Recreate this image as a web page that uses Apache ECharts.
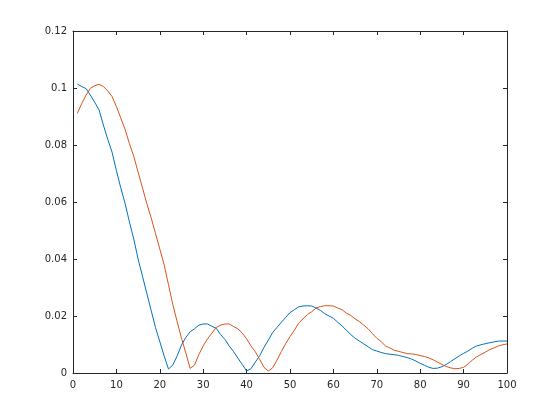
<!DOCTYPE html>
<html>
<head>
<meta charset="utf-8">
<script src="https://cdn.jsdelivr.net/npm/echarts@6/dist/echarts.min.js"></script>
<style>
  html, body { margin: 0; padding: 0; background: #fff; }
  #chart { width: 560px; height: 420px; }
</style>
</head>
<body>
<div id="chart"></div>
<script>
// x positions 1..100
const xValues = [];
for (let i = 1; i <= 100; i++) xValues.push(i);

// blue series
const blueValues = [
  0.1014, 0.1005, 0.0998, 0.0975, 0.0950, 0.0923, 0.0870, 0.0820, 0.0775, 0.0710,
  0.0650, 0.0595, 0.0530, 0.0470, 0.0400, 0.0340, 0.0280, 0.0220, 0.0160, 0.0110,
  0.0060, 0.0014, 0.0028, 0.0060, 0.0098, 0.0125, 0.0145, 0.0155, 0.0168, 0.0172,
  0.0172, 0.0164, 0.0157, 0.0135, 0.0118, 0.0095, 0.0075, 0.0052, 0.0030, 0.0007,
  0.0015, 0.0038, 0.0060, 0.0090, 0.0115, 0.0142, 0.0160, 0.0178, 0.0195, 0.0212,
  0.0222, 0.0232, 0.0235, 0.0236, 0.0235, 0.0228, 0.0220, 0.0208, 0.0200, 0.0192,
  0.0178, 0.0165, 0.0150, 0.0135, 0.0122, 0.0112, 0.0102, 0.0092, 0.0082, 0.0077,
  0.0072, 0.0068, 0.0066, 0.0064, 0.0062, 0.0058, 0.0054, 0.0049, 0.0042, 0.0034,
  0.0027, 0.0020, 0.0016, 0.0017, 0.0022, 0.0030, 0.0040, 0.0050, 0.0060, 0.0069,
  0.0077, 0.0087, 0.0095, 0.0099, 0.0103, 0.0106, 0.0109, 0.0112, 0.0112, 0.0112
];

// orange series
const orangeValues = [
  0.0911, 0.0945, 0.0975, 0.0999, 0.1008, 0.1013, 0.1005, 0.0990, 0.0970, 0.0935,
  0.0895, 0.0855, 0.0805, 0.0760, 0.0705, 0.0650, 0.0595, 0.0545, 0.0490, 0.0435,
  0.0380, 0.0310, 0.0240, 0.0180, 0.0122, 0.0070, 0.0016, 0.0028, 0.0065, 0.0095,
  0.0120, 0.0140, 0.0160, 0.0168, 0.0172, 0.0172, 0.0163, 0.0155, 0.0140, 0.0120,
  0.0095, 0.0075, 0.0048, 0.0020, 0.0007, 0.0018, 0.0045, 0.0075, 0.0103, 0.0128,
  0.0150, 0.0175, 0.0190, 0.0205, 0.0215, 0.0228, 0.0233, 0.0236, 0.0236, 0.0235,
  0.0228, 0.0222, 0.0210, 0.0202, 0.0190, 0.0180, 0.0168, 0.0155, 0.0138, 0.0122,
  0.0110, 0.0095, 0.0088, 0.0080, 0.0076, 0.0072, 0.0068, 0.0067, 0.0065, 0.0061,
  0.0058, 0.0053, 0.0046, 0.0038, 0.0030, 0.0023, 0.0018, 0.0015, 0.0016, 0.0020,
  0.0031, 0.0045, 0.0057, 0.0065, 0.0073, 0.0082, 0.0088, 0.0095, 0.0099, 0.0102
];

const axisColor = "#262626";
const font = "DejaVu Sans";

// 坐标轴公共样式
const baseAxis = {
  type: "value",
  axisLine: { show: true, onZero: false, lineStyle: { color: axisColor, width: 1 } },
  axisTick: { show: true, inside: true, length: 4, lineStyle: { color: axisColor } },
  splitLine: { show: false },
};

const chart = echarts.init(document.getElementById("chart"));
chart.setOption({
  animation: false,
  grid: { left: 73, right: 53, top: 31, bottom: 47 },
  xAxis: [
    {
      ...baseAxis,
      position: "bottom",
      min: 0, max: 100, interval: 10,
      axisLabel: { color: axisColor, fontFamily: font, fontSize: 10, margin: 7 },
    },
    {
      ...baseAxis,
      position: "top",
      min: 0, max: 100, interval: 10,
      axisLabel: { show: false },
    },
  ],
  yAxis: [
    {
      ...baseAxis,
      position: "left",
      min: 0, max: 0.12, interval: 0.02,
      axisLabel: {
        color: axisColor, fontFamily: font, fontSize: 10, margin: 6,
        formatter: (v) => String(parseFloat(v.toFixed(2))),
      },
    },
    {
      ...baseAxis,
      position: "right",
      min: 0, max: 0.12, interval: 0.02,
      axisLabel: { show: false },
    },
  ],
  series: [
    {
      type: "line",
      data: xValues.map((x, i) => [x, blueValues[i]]),
      showSymbol: false,
      lineStyle: { color: "#0072BD", width: 1 },
      itemStyle: { color: "#0072BD" },
    },
    {
      type: "line",
      data: xValues.map((x, i) => [x, orangeValues[i]]),
      showSymbol: false,
      lineStyle: { color: "#D95319", width: 1 },
      itemStyle: { color: "#D95319" },
    },
  ],
});
</script>
</body>
</html>
